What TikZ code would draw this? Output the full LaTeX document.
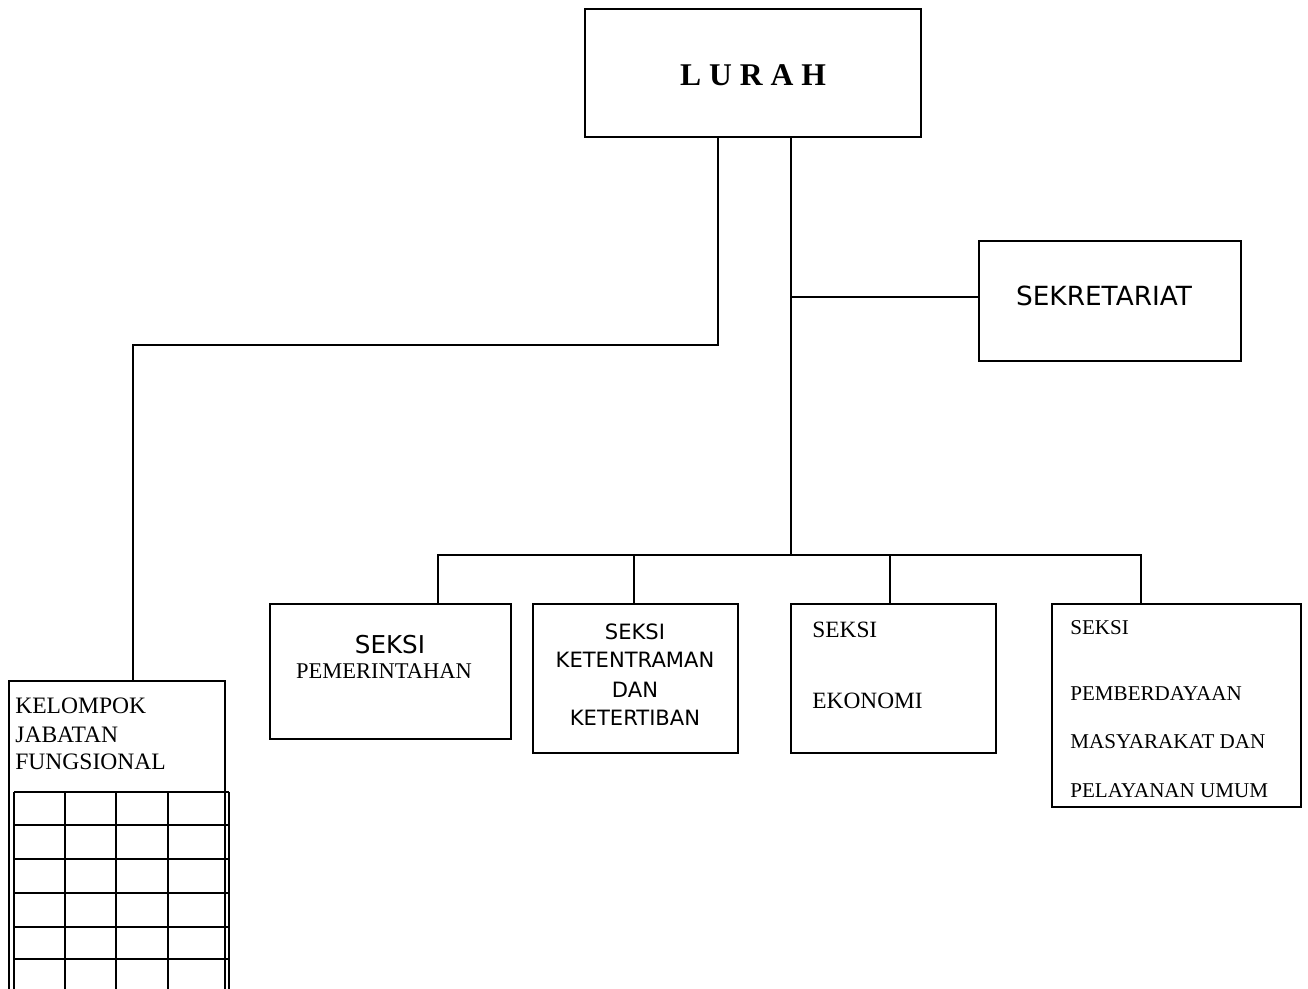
\documentclass[tikz,border=0pt]{standalone}
\usepackage{fontspec}
\setmainfont{Liberation Serif}
\newfontfamily\tahoma{DejaVu Sans}
\usetikzlibrary{positioning}
\newcommand\fsz[1]{\fontsize{#1}{#1}\selectfont}
\tikzstyle{box}=[draw,line width=1pt,inner sep=0pt,outer sep=0pt]
\tikzstyle{txt}=[inner sep=0pt,anchor=base]
\tikzstyle{ltxt}=[inner sep=0pt,anchor=base west]
\tikzstyle{link}=[line width=1pt]

\begin{document}
\begin{tikzpicture}[x=0.02cm,y=-0.02cm]
  \useasboundingbox (0,0) rectangle (1308,989);
  % boxes
  \node[box,minimum width=6.72cm,minimum height=2.56cm] (lurah) at (753,73) {};
  \node[box,minimum width=5.24cm,minimum height=2.4cm]  (sekr)  at (1110,301) {};
  \node[box,minimum width=4.82cm,minimum height=2.7cm]  (s1)    at (390.5,671.5) {};
  \node[box,minimum width=4.1cm,minimum height=2.98cm]  (s2)    at (635.5,678.5) {};
  \node[box,minimum width=4.1cm,minimum height=2.98cm]  (s3)    at (893.5,678.5) {};
  \node[box,minimum width=4.98cm,minimum height=4.06cm] (s4)    at (1176.5,705.5) {};
  \node[inner sep=0pt,minimum width=4.32cm,minimum height=6.16cm] (kjf) at (117,835) {};
  \draw[link] (kjf.south west) |- (kjf.north east) -- (kjf.south east);

  % texts
  \node[txt] (lurahtxt) at (753,86) {\fsz{18}\bfseries L U R A H};
  \node[txt] (sekrtxt) at (1104,306) {\tahoma\fsz{15}SEKRETARIAT};
  \node[txt] (s1a) at (390,653) {\tahoma\fsz{14}SEKSI};
  \node[txt] (s1b) at (384,678) {\fsz{12.8}PEMERINTAHAN};
  \node[txt] (s2a) at (635,639) {\tahoma\fsz{12}SEKSI};
  \node[txt] (s2b) at (635,667) {\tahoma\fsz{12}KETENTRAMAN};
  \node[txt] (s2c) at (635,697) {\tahoma\fsz{12}DAN};
  \node[txt] (s2d) at (635,725) {\tahoma\fsz{12}KETERTIBAN};
  \node[ltxt] (s3a) at (812,637) {\fsz{13.3}SEKSI};
  \node[ltxt] (s3b) at (812,708) {\fsz{13.3}EKONOMI};
  \node[ltxt] (s4a) at (1070,634) {\fsz{12}SEKSI};
  \node[ltxt] (s4b) at (1070,700) {\fsz{12}PEMBERDAYAAN};
  \node[ltxt] (s4c) at (1070,748) {\fsz{12}MASYARAKAT DAN};
  \node[ltxt] (s4d) at (1070,797) {\fsz{12}PELAYANAN UMUM};
  \node[ltxt] (kjfa) at (15,713) {\fsz{13.4}KELOMPOK};
  \node[ltxt] (kjfb) at (15,742) {\fsz{13.4}JABATAN};
  \node[ltxt] (kjfc) at (15,769) {\fsz{13.4}FUNGSIONAL};

  % grid below kelompok jabatan fungsional
  \foreach \y in {792,825,859,893,927,959}
    \draw[link] (14,\y) -- (229,\y);
  \foreach \x in {14,65,116,168,229}
    \draw[link] (\x,792) -- (\x,989);

  % connectors
  \coordinate (tapL) at (718,345);
  \coordinate (tapR) at (791,297);
  \coordinate (bus) at (791,555);
  \coordinate (kjftop) at (133,681);
  \coordinate (d1) at ([xshift=0.95cm]s1.north);
  \coordinate (d2) at ([xshift=-0.03cm]s2.north);
  \coordinate (d3) at ([xshift=-0.07cm]s3.north);
  \coordinate (d4) at ([xshift=-0.71cm]s4.north);
  \draw[link] (lurah.south -| tapL) -- (tapL) -| (kjftop);
  \draw[link] (lurah.south -| bus) -- (bus);
  \draw[link] (tapR) -- (tapR -| sekr.west);
  \draw[link] (d1) |- (bus) -| (d4);
  \draw[link] (d2) -- (d2 |- bus);
  \draw[link] (d3) -- (d3 |- bus);
\end{tikzpicture}
\end{document}
